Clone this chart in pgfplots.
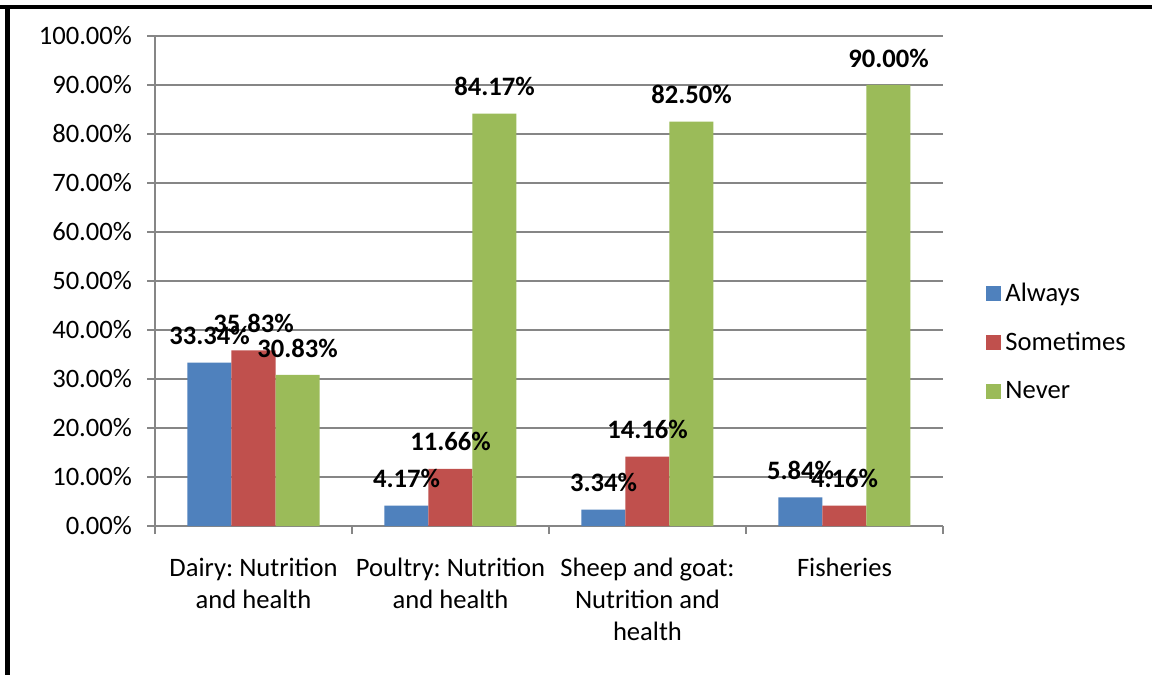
\documentclass[border=0pt]{standalone}
\usepackage{fontspec}
\setmainfont{Carlito}
\usepackage{pgfplots}
\pgfplotsset{compat=1.18}
\definecolor{cA}{HTML}{4F81BD}
\definecolor{cS}{HTML}{C0504D}
\definecolor{cN}{HTML}{9BBB59}
\definecolor{gridc}{HTML}{868686}
\frenchspacing
\begin{document}
\begin{tikzpicture}[x=1pt,y=1pt]
\useasboundingbox (0,0) rectangle (576,337.5);
\fill[white] (0,0) rectangle (576,337.5);
\fill[black] (0,333) rectangle (576,335.2);
\fill[black] (2.5,0) rectangle (5,335.2);
\begin{axis}[
  at={(77.5pt,74.5pt)}, anchor=south west,
  scale only axis, width=394pt, height=245pt,
  xmin=-0.5, xmax=3.5, ymin=0, ymax=100,
  ybar=0pt, bar width=22pt,
  axis x line*=bottom, axis y line*=left,
  axis line style={-, draw=gridc, line width=0.7pt},
  ymajorgrids, grid style={draw=gridc, line width=0.7pt},
  ytick={0,10,...,100},
  xtick={-0.5,0.5,1.5,2.5,3.5},
  x tick label as interval,
  xticklabels={{Dairy: Nutrition\\and health},{Poultry: Nutrition\\and health},{Sheep and goat:\\Nutrition and\\health},{Fisheries}},
  tick align=outside, major tick length=4pt,
  tick style={draw=gridc, line width=0.7pt},
  every tick label/.append style={font=\fontsize{13.3}{16}\selectfont, text=black},
  xticklabel style={align=center, yshift=-8.5pt},
  yticklabel style={xshift=-4pt},
  yticklabel={\pgfmathprintnumber[fixed,fixed zerofill,precision=2,assume math mode=true]{\tick}\%},
  nodes near coords={\pgfmathprintnumber[fixed,fixed zerofill,precision=2,assume math mode=true]{\pgfplotspointmeta}\%},
  every node near coord/.append style={anchor=center, yshift=13.5pt, font=\fontsize{13.3}{16}\selectfont\bfseries, text=black},
  legend style={at={(1.047,0.3755)}, anchor=west, draw=none, fill=none, row sep=10pt, font=\fontsize{13.3}{16}\selectfont},
  legend cell align=left,
  legend image code/.code={\fill[#1] (0pt,-3.75pt) rectangle (7.5pt,3.75pt);},
]
\addplot[fill=cA, draw=none] coordinates {(0,33.34) (1,4.17) (2,3.34) (3,5.84)};
\addplot[fill=cS, draw=none] coordinates {(0,35.83) (1,11.66) (2,14.16) (3,4.16)};
\addplot[fill=cN, draw=none] coordinates {(0,30.83) (1,84.17) (2,82.50) (3,90.00)};
\legend{Always,Sometimes,Never}
\end{axis}
\end{tikzpicture}
\end{document}
